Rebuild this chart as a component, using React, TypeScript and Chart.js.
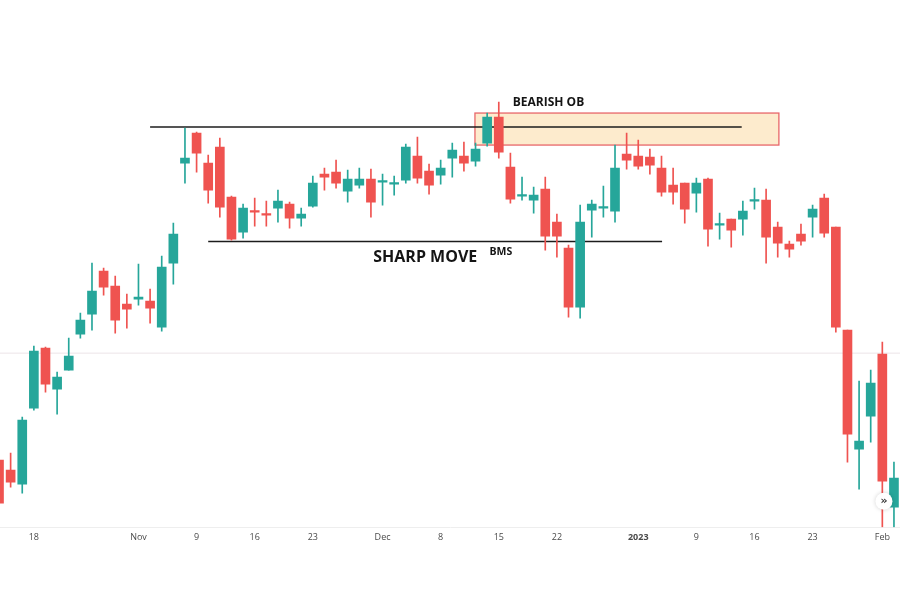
import React, { useEffect, useRef } from "react";
import { Chart, registerables } from "chart.js";

Chart.register(...registerables);

// OHLC values (arbitrary price units)
const OPEN = [140, 130, 116, 192, 252, 211, 230, 266, 286, 329, 314, 296, 301, 299, 273, 337, 437, 467, 437, 453, 403, 368, 389, 386, 392, 396, 382, 394, 426, 428, 409, 415, 421, 418, 416, 420, 444, 429, 425, 442, 444, 439, 457, 483, 433, 404, 400, 411, 378, 352, 293, 390, 392, 389, 446, 444, 443, 432, 415, 417, 407, 421, 375, 381, 381, 399, 400, 373, 356, 366, 383, 402, 373, 270, 151, 184, 246, 93];
const HIGH = [148, 147, 183, 254, 253, 228, 262, 287, 337, 332, 324, 306, 336, 311, 344, 377, 472, 468, 445, 462, 404, 396, 402, 399, 410, 398, 392, 424, 432, 440, 430, 432, 431, 426, 424, 456, 463, 436, 440, 457, 458, 457, 487, 498, 447, 423, 413, 423, 386, 355, 395, 400, 414, 455, 467, 460, 451, 444, 432, 417, 422, 422, 387, 381, 399, 412, 411, 378, 359, 376, 395, 406, 373, 270, 219, 230, 258, 138];
const LOW = [90, 113, 107, 190, 208, 186, 230, 262, 270, 305, 267, 272, 295, 277, 269, 316, 417, 428, 397, 383, 360, 362, 374, 374, 378, 372, 374, 393, 410, 412, 398, 412, 383, 395, 405, 417, 417, 406, 416, 423, 429, 434, 454, 442, 397, 400, 387, 350, 343, 283, 282, 363, 383, 378, 431, 431, 426, 404, 396, 377, 388, 354, 361, 353, 365, 391, 337, 343, 343, 355, 363, 363, 268, 138, 111, 158, 73, 73];
const CLOSE = [97, 118, 180, 249, 216, 223, 244, 280, 309, 313, 280, 291, 303, 292, 333, 366, 442, 447, 410, 393, 361, 392, 388, 385, 399, 382, 386, 417, 423, 417, 421, 421, 398, 419, 417, 453, 422, 415, 432, 450, 437, 451, 483, 448, 401, 405, 405, 364, 364, 293, 378, 396, 393, 432, 440, 434, 435, 408, 408, 391, 417, 371, 376, 370, 389, 400, 363, 357, 351, 359, 391, 367, 273, 166, 159, 217, 119, 122];

// Date axis labels (candle index -> label)
const TICK_IDX = [3, 12, 17, 22, 27, 33, 38, 43, 48, 55, 60, 65, 70, 76];
const TICK_LABELS = ["18", "Nov", "9", "16", "23", "Dec", "8", "15", "22", "2023", "9", "16", "23", "Feb"];

// Drawn levels
const HIGH_LEVEL = 473;
const HIGH_LEVEL_RANGE = [13.0, 63.9];
const LOW_LEVEL = 358.5;
const LOW_LEVEL_RANGE = [18.0, 57.05];
const LAST_PRICE = 247;
const OB_BOX = { x0: 40.95, x1: 67.1, yTop: 487, yBottom: 455 };

const X_MIN = 0.086;
const X_MAX = 77.52;

const GREEN = "#26a69a";
const RED = "#ef5350";

const annotationPlugin = {
  id: "annots",
  beforeDatasetsDraw(chart: any) {
    const { ctx, scales } = chart;
    const x = scales.x, y = scales.y;
    const l = x.getPixelForValue(OB_BOX.x0);
    const r = x.getPixelForValue(OB_BOX.x1);
    const t = y.getPixelForValue(OB_BOX.yTop);
    const b = y.getPixelForValue(OB_BOX.yBottom);
    ctx.save();
    ctx.fillStyle = "rgba(253, 233, 200, 0.9)";
    ctx.fillRect(l, t, r - l, b - t);
    ctx.strokeStyle = "#e8676a";
    ctx.lineWidth = 1.3;
    ctx.strokeRect(l, t, r - l, b - t);
    ctx.restore();
  },
  afterDraw(chart: any) {
    const { ctx, scales } = chart;
    const x = scales.x, y = scales.y;
    ctx.save();
    ctx.fillStyle = "#141414";
    ctx.textBaseline = "alphabetic";
    ctx.textAlign = "left";
    ctx.font = "bold 12px 'Open Sans'";
    ctx.fillText("BEARISH OB", x.getPixelForValue(44.2), y.getPixelForValue(494));
    ctx.font = "bold 16px 'Open Sans'";
    ctx.fillText("SHARP MOVE", x.getPixelForValue(32.2), y.getPixelForValue(338));
    ctx.font = "bold 10.5px 'Open Sans'";
    ctx.fillText("BMS", x.getPixelForValue(42.2), y.getPixelForValue(345));
    // scroll button
    const bx = x.getPixelForValue(76.14);
    const by = y.getPixelForValue(99);
    ctx.shadowColor = "rgba(0,0,0,0.18)";
    ctx.shadowBlur = 4;
    ctx.beginPath();
    ctx.arc(bx, by, 8.5, 0, Math.PI * 2);
    ctx.fillStyle = "#ffffff";
    ctx.fill();
    ctx.shadowBlur = 0;
    ctx.fillStyle = "#333";
    ctx.font = "bold 11px 'DejaVu Sans'";
    ctx.textAlign = "center";
    ctx.textBaseline = "middle";
    ctx.fillText("»", bx, by);
    ctx.restore();
  },
};

export default function App() {
  const ref = useRef<HTMLCanvasElement | null>(null);

  useEffect(() => {
    if (!ref.current) return;
    const idx = OPEN.map((_, i) => i);
    const colors = idx.map((i) => (CLOSE[i] >= OPEN[i] ? GREEN : RED));
    const chart = new Chart(ref.current, {
      type: "bar",
      data: {
        datasets: [
          {
            type: "line",
            label: "last",
            data: [{ x: X_MIN, y: LAST_PRICE }, { x: X_MAX, y: LAST_PRICE }],
            borderColor: "#ece4e8",
            borderWidth: 1,
            pointRadius: 0,
            order: 5,
          } as any,
          {
            type: "line",
            label: "high level",
            data: [{ x: HIGH_LEVEL_RANGE[0], y: HIGH_LEVEL }, { x: HIGH_LEVEL_RANGE[1], y: HIGH_LEVEL }],
            borderColor: "#1c1c1c",
            borderWidth: 1.5,
            pointRadius: 0,
            order: 4,
          } as any,
          {
            type: "line",
            label: "low level",
            data: [{ x: LOW_LEVEL_RANGE[0], y: LOW_LEVEL }, { x: LOW_LEVEL_RANGE[1], y: LOW_LEVEL }],
            borderColor: "#1c1c1c",
            borderWidth: 1.5,
            pointRadius: 0,
            order: 4,
          } as any,
          {
            label: "wicks",
            data: idx.map((i) => ({ x: i, y: [LOW[i], HIGH[i]] })) as any,
            backgroundColor: colors,
            barThickness: 1,
            grouped: false,
            order: 2,
          } as any,
          {
            label: "bodies",
            data: idx.map((i) => ({ x: i, y: [OPEN[i], CLOSE[i]] })) as any,
            backgroundColor: colors,
            barThickness: 9,
            minBarLength: 1.5,
            grouped: false,
            order: 1,
          } as any,
        ],
      },
      options: {
        animation: false,
        responsive: false,
        layout: { padding: { left: 0, right: 0, top: 0, bottom: 52 } },
        plugins: { legend: { display: false }, tooltip: { enabled: false } },
        scales: {
          x: {
            type: "linear",
            min: X_MIN,
            max: X_MAX,
            offset: false,
            grid: { display: false, drawTicks: false },
            border: { display: true, color: "#eeeeee", width: 1 },
            afterBuildTicks: (scale: any) => {
              scale.ticks = TICK_IDX.map((v) => ({ value: v }));
            },
            ticks: {
              autoSkip: false,
              maxRotation: 0,
              padding: 5,
              color: "#4a4a4a",
              font: (c: any) => ({
                family: "'Open Sans'",
                size: 9,
                weight: c.tick && c.tick.value === 55 ? "bold" : "normal",
              }),
              callback: (v: any) => {
                const k = TICK_IDX.indexOf(Number(v));
                return k >= 0 ? TICK_LABELS[k] : "";
              },
            },
          },
          y: {
            type: "linear",
            display: false,
            min: 73,
            max: 600,
          },
        },
      } as any,
      plugins: [annotationPlugin],
    });
    return () => chart.destroy();
  }, []);

  return (
    <div style={{ position: "absolute", left: 0, top: 0, width: 900, height: 600, background: "#fff" }}>
      <canvas ref={ref} width={900} height={600} />
    </div>
  );
}
